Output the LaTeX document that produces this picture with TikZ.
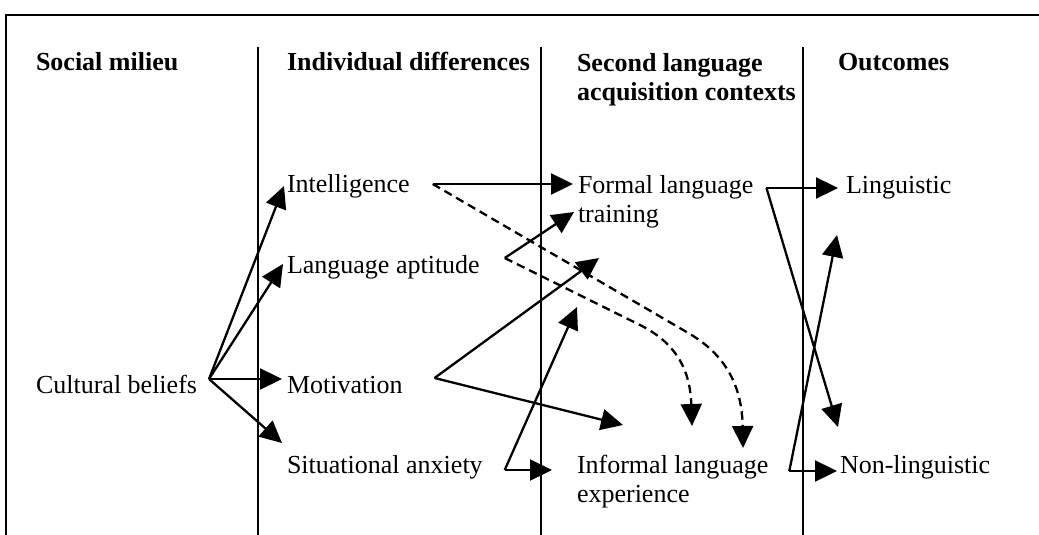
\documentclass[tikz,border=0pt]{standalone}
\usepackage{fontspec}
\setmainfont{Liberation Serif}
\usetikzlibrary{arrows.meta,calc}
\begin{document}
\begin{tikzpicture}[x=0.5pt,y=-0.5pt,
  lbl/.style={inner sep=0pt,outer sep=0pt,anchor=base west,font=\fontsize{13pt}{14.5pt}\selectfont},
  mlbl/.style={lbl,anchor=north west,align=left},
  hdr/.style={lbl,font=\fontsize{13pt}{14.5pt}\selectfont\bfseries},
  divider/.style={line width=0.75pt},
  frameline/.style={line width=0.9pt},
  arr/.style={line width=1.15pt,-{Triangle[length=11pt,width=10.5pt]}},
  darr/.style={arr,dash pattern=on 4.2pt off 2.6pt},
]
\useasboundingbox (0,0) rectangle (1039,535);
% frame and column dividers
\draw[frameline] (6,535) -- (6,15) -- (1039,15);
\draw[divider] (258,47) -- (258,535);
\draw[divider] (541,47) -- (541,535);
\draw[divider] (803,47) -- (803,535);
% headers
\node[hdr] (hsoc) at (36,71) {Social milieu};
\node[hdr] (hind) at (287,71) {Individual differences};
\node[hdr,anchor=north west,align=left] (hsla) at (577,53) {Second language\\acquisition contexts};
\node[hdr] (hout) at (838,71) {Outcomes};
% labels
\node[lbl] (cb) at (36,393) {Cultural beliefs};
\node[lbl] (intel) at (287,192) {Intelligence};
\node[lbl] (apt) at (287,273) {Language aptitude};
\node[lbl] (mot) at (287,393) {Motivation};
\node[lbl] (anx) at (287,473) {Situational anxiety};
\node[mlbl] (formal) at (578,175) {Formal language\\training};
\node[mlbl] (informal) at (577,455) {Informal language\\experience};
\node[lbl] (ling) at (846,193) {Linguistic};
\node[lbl] (nonling) at (840,473) {Non-linguistic};
% fork points
\coordinate (cbF) at ($(cb.base east)+(12,-14)$);
\coordinate (intelF) at ($(intel.base east)+(23,-8)$);
\coordinate (aptF) at ($(apt.base east)+(25,-15)$);
\coordinate (motF) at ($(mot.base east)+(32,-15)$);
\coordinate (anxF) at ($(anx.base east)+(22,-3)$);
\coordinate (formalF) at ($(formal.north east)+(13,13)$);
\coordinate (infF) at ($(informal.north east)+(21,16)$);
% social milieu -> individual differences
\draw[arr] (cbF) -- ($(intel.base west)+(-3,-6)$);
\draw[arr] (cbF) -- ($(apt.base west)+(-4,-9)$);
\draw[arr] (cbF) -- ($(mot.base west)+(-5,-14)$);
\draw[arr] (cbF) -- ($(anx.base west)+(-5,-30)$);
% individual differences -> contexts
\draw[arr] (intelF) -- ($(formal.north west)+(-5,9)$);
\draw[arr] (aptF) -- ($(formal.north west)+(-4,37)$);
\draw[arr] (motF) -- ($(formal.north west)+(21,83)$);
\draw[arr] (motF) -- ($(informal.north west)+(46,-30)$);
\draw[arr] (anxF) -- ($(formal.north west)+(-1,132)$);
\draw[arr] (anxF) -- ($(informal.north west)+(-25,15)$);
% dashed paths
\coordinate (d1) at (690,334);
\coordinate (d2) at (640,325);
\draw[darr] (intelF) -- (d1) .. controls (725,355) and (742,385) .. ($(informal.north west)+(166,-7)$);
\draw[darr] (aptF) -- (d2) .. controls (672,341) and (690,365) .. ($(informal.north west)+(115,-29)$);
% contexts -> outcomes
\draw[arr] (formalF) -- ($(ling.base west)+(-8,-5)$);
\draw[arr] (formalF) -- ($(nonling.base west)+(-2,-46)$);
\draw[arr] (infF) -- ($(nonling.base west)+(-3,-2)$);
\draw[arr] (infF) -- ($(ling.base west)+(-9,42)$);
\end{tikzpicture}
\end{document}
